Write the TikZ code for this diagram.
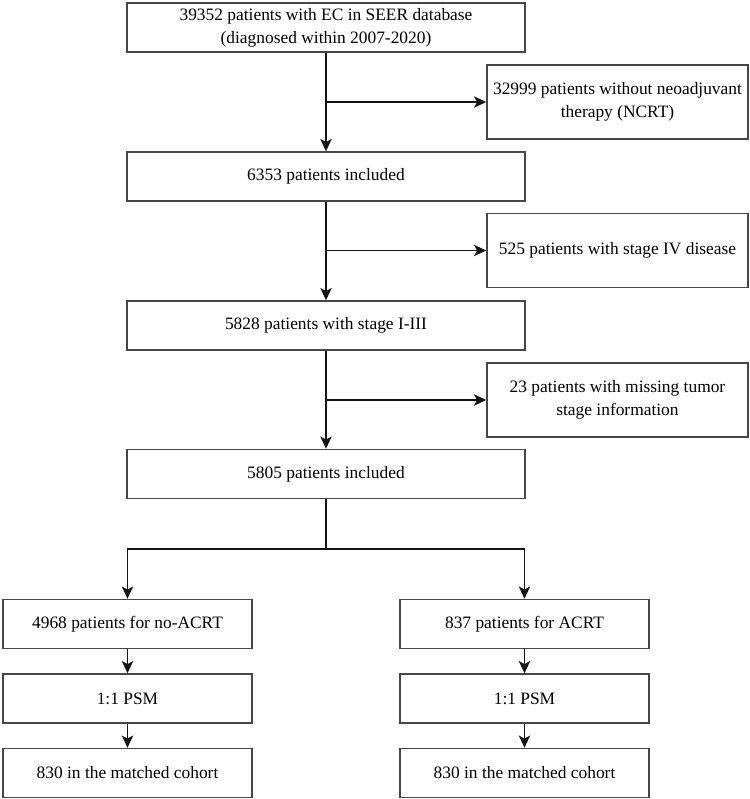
\documentclass[tikz,border=0pt]{standalone}
\usepackage{fontspec}
\setmainfont{Liberation Serif}
\usepackage{tikz}
\usetikzlibrary{arrows.meta, positioning, calc}
\definecolor{mydark}{RGB}{20,20,20}
\definecolor{myframe}{RGB}{70,70,70}
\tikzset{
  block/.style={rectangle, draw=myframe, fill=white,
    minimum width=7.96cm, minimum height=0.98cm, align=center,
    font=\fontsize{9.9}{13}\selectfont, line width=0.85pt, inner sep=2pt},
  exblock/.style={block, minimum width=5.22cm, minimum height=1.48cm},
  armblock/.style={block, minimum width=4.98cm, minimum height=0.98cm},
  arrow/.style={-{Stealth[length=7pt, width=6.5pt, inset=1.8pt]}, line width=0.75pt, color=mydark},
  line/.style={line width=0.75pt, color=mydark}
}
\begin{document}
\begin{tikzpicture}
  \useasboundingbox (0,0) rectangle (15,-15.98);

  % main column
  \node[block] (top) at (6.52,-0.55) {39352 patients with EC in SEER database\\(diagnosed within 2007-2020)};
  \node[block] (inc1) at (6.52,-3.53) {6353 patients included};
  \node[block] (stg) at (6.52,-6.51) {5828 patients with stage I-III};
  \node[block] (inc2) at (6.52,-9.48) {5805 patients included};

  % exclusions
  \node[exblock] (ex1) at (12.35,-2.04) {32999 patients without neoadjuvant\\therapy (NCRT)};
  \node[exblock] (ex2) at (12.35,-5.01) {525 patients with stage IV disease};
  \node[exblock] (ex3) at (12.35,-8.00) {23 patients with missing tumor\\stage information};

  \draw[arrow] (top) -- (inc1);
  \draw[arrow] (inc1) -- (stg);
  \draw[arrow] (stg) -- (inc2);

  \coordinate (j1) at (top.south |- ex1.west);
  \coordinate (j2) at (inc1.south |- ex2.west);
  \coordinate (j3) at (stg.south |- ex3.west);
  \draw[arrow] (j1) -- (ex1);
  \draw[arrow] (j2) -- (ex2);
  \draw[arrow] (j3) -- (ex3);

  % two arms
  \node[armblock] (noa) at (2.55,-12.48) {4968 patients for no-ACRT};
  \node[armblock] (psm1) at (2.55,-13.97) {1:1 PSM};
  \node[armblock] (mc1) at (2.55,-15.46) {830 in the matched cohort};

  \node[armblock] (acrt) at (10.49,-12.48) {837 patients for ACRT};
  \node[armblock] (psm2) at (10.49,-13.97) {1:1 PSM};
  \node[armblock] (mc2) at (10.49,-15.46) {830 in the matched cohort};

  \coordinate (sp) at (6.52,-10.98);
  \draw[line] (inc2) -- (sp);
  \draw[arrow] (sp) -| (noa);
  \draw[arrow] (sp) -| (acrt);

  \draw[arrow] (noa) -- (psm1);
  \draw[arrow] (psm1) -- (mc1);
  \draw[arrow] (acrt) -- (psm2);
  \draw[arrow] (psm2) -- (mc2);
\end{tikzpicture}
\end{document}
